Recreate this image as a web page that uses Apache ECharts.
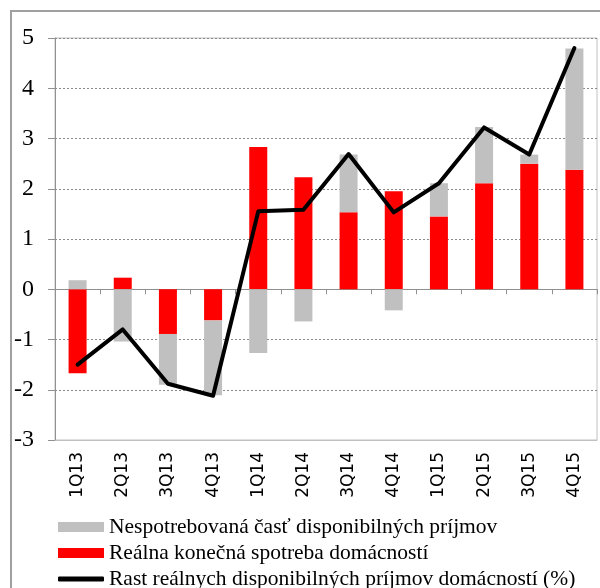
<!DOCTYPE html>
<html>
<head>
<meta charset="utf-8">
<script src="https://cdn.jsdelivr.net/npm/echarts@6/dist/echarts.min.js"></script>
<style>
  html, body { margin: 0; padding: 0; background: #fff; }
  #main { width: 600px; height: 588px; }
</style>
</head>
<body>
<div id="main"></div>
<script>
var myChart = echarts.init(document.getElementById('main'));

// data
var categories = ['1Q13', '2Q13', '3Q13', '4Q13', '1Q14', '2Q14', '3Q14', '4Q14', '1Q15', '2Q15', '3Q15', '4Q15'];
var spotreba = [-1.67, 0.23, -0.89, -0.62, 2.83, 2.23, 1.53, 1.95, 1.45, 2.11, 2.50, 2.38];
var nespotrebovane = [0.18, -1.04, -1.01, -1.49, -1.27, -0.64, 1.15, -0.42, 0.66, 1.12, 0.18, 2.41];
var prijmy = [-1.50, -0.80, -1.88, -2.12, 1.55, 1.58, 2.69, 1.53, 2.11, 3.22, 2.68, 4.80];
var yTicks = [-3, -2, -1, 0, 1, 2, 3, 4, 5];

var nameGrey = 'Nespotrebovaná časť disponibilných príjmov';
var nameRed = 'Reálna konečná spotreba domácností';
var nameLine = 'Rast reálnych disponibilných príjmov domácností (%)';

var legendText = {
  fontFamily: 'Liberation Serif',
  fontSize: 21.5,
  color: '#000'
};

// one legend per row so the last (cut off) row does not wrap into a column
function legendRow(name, top, icon, h) {
  return {
    orient: 'vertical',
    left: 58,
    top: top,
    padding: 0,
    itemWidth: 46,
    itemHeight: h,
    textStyle: legendText,
    data: [{ name: name, icon: icon }]
  };
}

var option = {
  animation: false,
  graphic: [
    {
      type: 'rect',
      shape: { x: 11, y: 11, width: 700, height: 700 },
      style: { fill: 'none', stroke: '#a0a0a0', lineWidth: 2 },
      silent: true
    }
  ],
  grid: {
    left: 55,
    right: 3,
    top: 38,
    bottom: 148,
    show: true,
    borderColor: '#c0c0c0',
    borderWidth: 1
  },
  legend: [
    legendRow(nameGrey, 516, 'rect', 10),
    legendRow(nameRed, 542, 'rect', 10),
    legendRow(nameLine, 568, 'roundRect', 5)
  ],
  xAxis: [
    {
      type: 'category',
      data: categories,
      position: 'bottom',
      axisLine: { onZero: false, lineStyle: { color: '#c0c0c0' } },
      axisTick: { show: false },
      axisLabel: {
        rotate: 90,
        margin: 12,
        fontFamily: 'DejaVu Sans',
        fontSize: 17,
        color: '#000'
      }
    },
    {
      type: 'category',
      data: categories,
      position: 'bottom',
      axisLine: { onZero: true, lineStyle: { color: '#909090' } },
      axisTick: { show: true, length: 5, lineStyle: { color: '#909090' } },
      axisLabel: { show: false }
    }
  ],
  yAxis: {
    type: 'value',
    min: -3,
    max: 5,
    interval: 1,
    axisLine: { show: true, lineStyle: { color: '#909090' } },
    axisTick: { show: true, length: 7, lineStyle: { color: '#909090' } },
    axisLabel: {
      margin: 21,
      fontFamily: 'Liberation Serif',
      fontSize: 24,
      color: '#000',
      formatter: function (v) {
        return yTicks.indexOf(v) >= 0 ? String(v) : '';
      }
    },
    splitLine: {
      lineStyle: { color: '#8a8a8a', type: [2, 2], width: 1 }
    }
  },
  series: [
    {
      name: nameRed,
      type: 'bar',
      stack: 'sum',
      barWidth: 18,
      itemStyle: { color: '#ff0000' },
      data: spotreba
    },
    {
      name: nameGrey,
      type: 'bar',
      stack: 'sum',
      barWidth: 18,
      itemStyle: { color: '#c0c0c0' },
      data: nespotrebovane
    },
    {
      name: nameLine,
      type: 'line',
      symbol: 'none',
      lineStyle: { color: '#000', width: 4, cap: 'round', join: 'round' },
      itemStyle: { color: '#000' },
      data: prijmy,
      z: 5
    }
  ]
};
myChart.setOption(option);
window.onresize = function () {
  myChart.resize();
};
</script>
</body>
</html>
